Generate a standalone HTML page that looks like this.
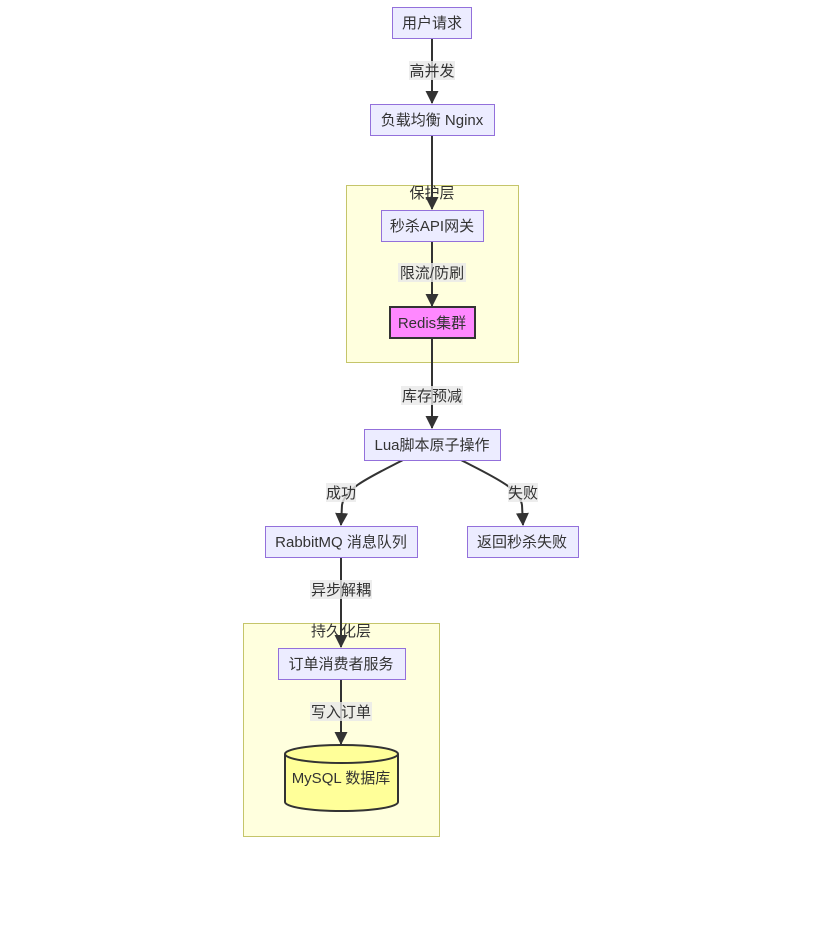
<!DOCTYPE html>
<html><head><meta charset="utf-8"><style>
html,body{margin:0;padding:0;background:#fff;}
svg text{font-family:"Liberation Sans","Noto Sans CJK SC",sans-serif;font-size:15px;fill:#333;}
</style></head><body>
<svg width="817" height="940" viewBox="0 0 817 940" xmlns="http://www.w3.org/2000/svg">
<defs><marker id="a" markerWidth="13" markerHeight="13" refX="12" refY="6.5" orient="auto" markerUnits="userSpaceOnUse"><path d="M0,0 L13,6.5 L0,13 z" fill="#333"/></marker></defs>
<rect x="346.5" y="185.5" width="172" height="177" fill="#ffffde" stroke="#c5c56a" stroke-width="1"/>
<text x="432" y="198" text-anchor="middle">保护层</text>
<rect x="243.5" y="623.5" width="196" height="213" fill="#ffffde" stroke="#c5c56a" stroke-width="1"/>
<text x="341" y="636" text-anchor="middle">持久化层</text>
<g stroke="#333" stroke-width="2" fill="none" marker-end="url(#a)">
<path d="M432,38 L432,103"/>
<path d="M432,135 L432,209"/>
<path d="M432,241 L432,306"/>
<path d="M432,338 L432,428"/>
<path d="M403,460 C370,477 345,488 342,505 L341,525"/>
<path d="M461,460 C494,477 519,488 522,505 L523,525"/>
<path d="M341,557 L341,647"/>
<path d="M341,679 L341,744"/>
</g>
<g>
<rect x="409" y="61" width="46" height="19" fill="#e8e8e8" opacity="0.8"/><text x="432" y="76" text-anchor="middle">高并发</text>
<rect x="398" y="263" width="68" height="19" fill="#e8e8e8" opacity="0.8"/><text x="432" y="278" text-anchor="middle">限流/防刷</text>
<rect x="401" y="386" width="62" height="19" fill="#e8e8e8" opacity="0.8"/><text x="432" y="401" text-anchor="middle">库存预减</text>
<rect x="326" y="483" width="30" height="19" fill="#e8e8e8" opacity="0.8"/><text x="341" y="498" text-anchor="middle">成功</text>
<rect x="508" y="483" width="30" height="19" fill="#e8e8e8" opacity="0.8"/><text x="523" y="498" text-anchor="middle">失败</text>
<rect x="310" y="580" width="62" height="19" fill="#e8e8e8" opacity="0.8"/><text x="341" y="595" text-anchor="middle">异步解耦</text>
<rect x="310" y="702" width="62" height="19" fill="#e8e8e8" opacity="0.8"/><text x="341" y="717" text-anchor="middle">写入订单</text>
</g>
<g fill="#ececff" stroke="#9370db" stroke-width="1">
<rect x="392.5" y="7.5" width="79" height="31"/>
<rect x="370.5" y="104.5" width="124" height="31"/>
<rect x="381.5" y="210.5" width="102" height="31"/>
<rect x="364.5" y="429.5" width="136" height="31"/>
<rect x="265.5" y="526.5" width="152" height="31"/>
<rect x="467.5" y="526.5" width="111" height="31"/>
<rect x="278.5" y="648.5" width="127" height="31"/>
</g>
<rect x="390" y="307" width="85" height="31" fill="#ff88ff" stroke="#333" stroke-width="2"/>
<path d="M285,754 A56.5,9 0 0 1 398,754 L398,802 A56.5,9 0 0 1 285,802 Z" fill="#ffff99" stroke="#333" stroke-width="2"/>
<path d="M285,754 A56.5,9 0 0 0 398,754" fill="none" stroke="#333" stroke-width="2"/>
<text x="432" y="28" text-anchor="middle">用户请求</text>
<text x="432" y="125" text-anchor="middle">负载均衡 Nginx</text>
<text x="432" y="231" text-anchor="middle">秒杀API网关</text>
<text x="432" y="328" text-anchor="middle">Redis集群</text>
<text x="432" y="450" text-anchor="middle">Lua脚本原子操作</text>
<text x="341" y="547" text-anchor="middle">RabbitMQ 消息队列</text>
<text x="522" y="547" text-anchor="middle">返回秒杀失败</text>
<text x="341" y="669" text-anchor="middle">订单消费者服务</text>
<text x="341" y="783" text-anchor="middle">MySQL 数据库</text>
</svg>
</body></html>
